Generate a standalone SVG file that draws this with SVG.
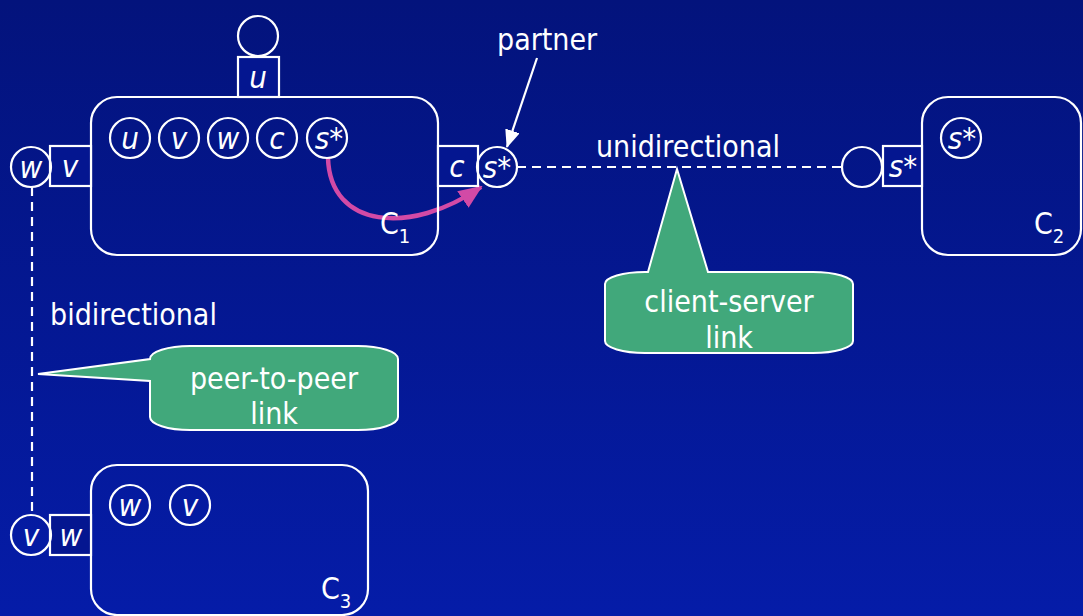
<svg xmlns="http://www.w3.org/2000/svg" width="1083" height="616" viewBox="0 0 1083 616">
  <defs>
    <linearGradient id="bg" x1="0" y1="0" x2="0" y2="1">
      <stop offset="0" stop-color="#03137c"/>
      <stop offset="1" stop-color="#051ca8"/>
    </linearGradient>
    <marker id="pinkHead" viewBox="0 0 24 20" refX="22" refY="10" markerWidth="24" markerHeight="20" markerUnits="userSpaceOnUse" orient="auto">
      <path d="M0,0 L24,10 L0,20 Z" fill="#d24aa6"/>
    </marker>
    <marker id="whiteHead" viewBox="0 0 18 15" refX="17" refY="7.5" markerWidth="18" markerHeight="15" markerUnits="userSpaceOnUse" orient="auto">
      <path d="M0,0 L18,7.5 L0,15 Z" fill="#ffffff"/>
    </marker>
    <style>
      .box { fill: none; stroke: #ffffff; stroke-width: 2.2; }
      .port { fill: #041690; stroke: #ffffff; stroke-width: 2.2; }
      .ring { fill: none; stroke: #ffffff; stroke-width: 2.2; }
      .lbl { font-family: "DejaVu Sans Condensed", "DejaVu Sans", sans-serif; fill: #ffffff; font-size: 30px; }
      .var { font-family: "DejaVu Sans Condensed", "DejaVu Sans", sans-serif; fill: #ffffff; font-size: 31px; font-style: italic; text-anchor: middle; }
      .cname { font-family: "DejaVu Sans Condensed", "DejaVu Sans", sans-serif; fill: #ffffff; font-size: 30px; }
      .sub { font-size: 20px; }
      .dash { fill: none; stroke: #ffffff; stroke-width: 2.2; stroke-dasharray: 9 6; }
      .callout { fill: #41a87b; stroke: #ffffff; stroke-width: 2; }
      .ctext { font-family: "DejaVu Sans Condensed", "DejaVu Sans", sans-serif; fill: #ffffff; font-size: 30px; text-anchor: middle; }
    </style>
  </defs>

  <rect x="0" y="0" width="1083" height="616" fill="url(#bg)"/>

  <!-- links and arrows -->
  <g id="connectors">
    <line class="dash" x1="517" y1="167" x2="843" y2="167"/>
    <line class="dash" x1="32" y1="187" x2="32" y2="515"/>
    <path d="M328,158 C330,228 410,236 481,187" fill="none" stroke="#d24aa6" stroke-width="4.5" marker-end="url(#pinkHead)"/>
    <line x1="537" y1="58" x2="507" y2="147" stroke="#ffffff" stroke-width="2.2" marker-end="url(#whiteHead)"/>
  </g>

  <!-- component C1 -->
  <g id="c1">
    <rect class="box" x="91" y="97" width="347" height="158" rx="26" ry="26"/>
    <circle class="ring" cx="258" cy="36" r="20"/>
    <rect class="port" x="238" y="57" width="41" height="40"/>
    <text class="var" x="258" y="88">u</text>
    <circle class="ring" cx="130" cy="138" r="20"/>
    <text class="var" x="130" y="149">u</text>
    <circle class="ring" cx="179" cy="138" r="20"/>
    <text class="var" x="179" y="149">v</text>
    <circle class="ring" cx="228" cy="138" r="20"/>
    <text class="var" x="228" y="149">w</text>
    <circle class="ring" cx="277" cy="138" r="20"/>
    <text class="var" x="277" y="149">c</text>
    <circle class="ring" cx="327" cy="138" r="20"/>
    <text class="var" x="329" y="149">s*</text>
    <rect class="port" x="50" y="146" width="41" height="40"/>
    <text class="var" x="70" y="177">v</text>
    <circle class="ring" cx="31" cy="167" r="20"/>
    <text class="var" x="31" y="178">w</text>
    <rect class="port" x="438" y="146" width="40" height="40"/>
    <text class="var" x="457" y="177">c</text>
    <circle class="ring" cx="497" cy="167" r="20"/>
    <text class="var" x="497" y="178">s*</text>
    <text class="cname" x="380" y="234">C<tspan class="sub" dy="9">1</tspan></text>
  </g>

  <!-- component C2 -->
  <g id="c2">
    <rect class="box" x="922" y="97" width="159" height="158" rx="26" ry="26"/>
    <circle class="ring" cx="862" cy="167" r="20"/>
    <rect class="port" x="883" y="146" width="39" height="40"/>
    <text class="var" x="903" y="177">s*</text>
    <circle class="ring" cx="961" cy="138" r="20"/>
    <text class="var" x="962" y="149">s*</text>
    <text class="cname" x="1034" y="234">C<tspan class="sub" dy="9">2</tspan></text>
  </g>

  <!-- component C3 -->
  <g id="c3">
    <rect class="box" x="91" y="465" width="277" height="150" rx="26" ry="26"/>
    <circle class="ring" cx="130" cy="505" r="20"/>
    <text class="var" x="130" y="516">w</text>
    <circle class="ring" cx="190" cy="505" r="20"/>
    <text class="var" x="190" y="516">v</text>
    <rect class="port" x="50" y="515" width="41" height="40"/>
    <text class="var" x="71" y="546">w</text>
    <circle class="ring" cx="31" cy="535" r="20"/>
    <text class="var" x="31" y="546">v</text>
    <text class="cname" x="321" y="599">C<tspan class="sub" dy="9">3</tspan></text>
  </g>

  <!-- link labels -->
  <g id="labels">
    <text class="lbl" x="497" y="50">partner</text>
    <text class="lbl" x="596" y="157">unidirectional</text>
    <text class="lbl" x="50" y="325">bidirectional</text>
  </g>

  <!-- callout: client-server link -->
  <g id="callout-cs">
    <path class="callout" d="M605,284 A40,12 0 0 1 645,272 L648,272 L677,169 L708,272 L813,272 A40,12 0 0 1 853,284 L853,341 A40,12 0 0 1 813,353 L645,353 A40,12 0 0 1 605,341 Z"/>
    <text class="ctext" x="729" y="312">client-server</text>
    <text class="ctext" x="729" y="348">link</text>
  </g>

  <!-- callout: peer-to-peer link -->
  <g id="callout-p2p">
    <path class="callout" d="M150,359 A40,13 0 0 1 190,346 L358,346 A40,13 0 0 1 398,359 L398,417 A40,13 0 0 1 358,430 L190,430 A40,13 0 0 1 150,417 L150,381 L38,374 Z"/>
    <text class="ctext" x="274" y="389">peer-to-peer</text>
    <text class="ctext" x="274" y="424">link</text>
  </g>
</svg>
